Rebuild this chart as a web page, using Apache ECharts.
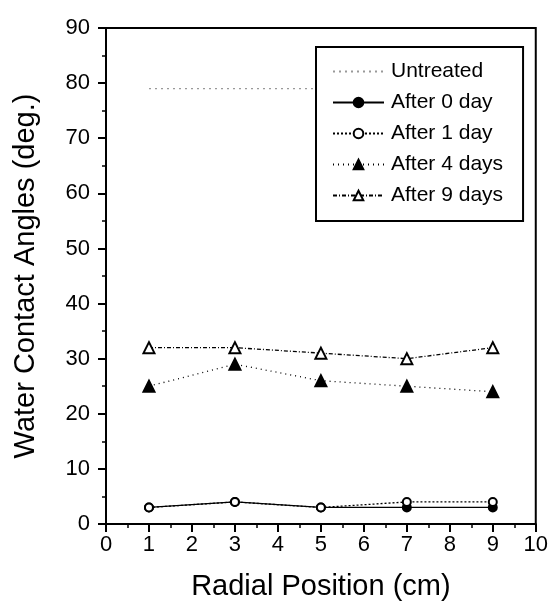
<!DOCTYPE html>
<html>
<head>
<meta charset="utf-8">
<script src="https://cdn.jsdelivr.net/npm/echarts@6/dist/echarts.min.js"></script>
<style>
  html, body { margin: 0; padding: 0; background: #fff; }
  #chart { width: 551px; height: 606px; }
</style>
</head>
<body>
<div id="chart"></div>
<script>
// radial positions (cm)
const positions = [1, 3, 5, 7, 9];
// water contact angles (deg.)
const untreated = [79, 79, 79, 79, 79];
const after0 = [3, 4, 3, 3, 3];
const after1 = [3, 4, 3, 4, 4];
const after4 = [25, 29, 26, 25, 24];
const after9 = [32, 32, 31, 30, 32];
const names = ['Untreated', 'After 0 day', 'After 1 day', 'After 4 days', 'After 9 days'];

const font = 'Liberation Sans, Arial, sans-serif';
const pair = arr => positions.map((x, i) => [x, arr[i]]);

const chart = echarts.init(document.getElementById('chart'));

// 每条曲线的样式
const mk = (name, data, symbol, fill, lineType, lineColor, z) => ({
  name: name,
  type: 'line',
  data: pair(data),
  symbol: symbol,
  symbolSize: symbol === 'triangle' ? 11 : 8,
  showSymbol: fill !== 'transparent',
  itemStyle: fill === 'transparent'
    ? { color: 'rgba(0,0,0,0)', borderWidth: 0, opacity: 0 }
    : { color: fill, borderColor: '#000', borderWidth: 2 },
  lineStyle: { color: lineColor, width: 1.3, type: lineType },
  z: z,
  animation: false
});

const axisCommon = {
  axisLine: { lineStyle: { color: '#000', width: 2 } },
  axisTick: { inside: false, length: 8, lineStyle: { color: '#000', width: 2 } },
  minorTick: { show: true, splitNumber: 2, length: 4, lineStyle: { color: '#000', width: 1.5 } },
  splitLine: { show: false }
};

const option = {
  backgroundColor: '#fff',
  grid: {
    left: 106, right: 15, top: 28, bottom: 82,
    show: true, borderColor: '#000', borderWidth: 2
  },
  legend: {
    orient: 'vertical',
    left: 316, top: 47,
    padding: [14, 20, 15, 16],
    itemGap: 10,
    itemWidth: 51,
    itemHeight: 12,
    backgroundColor: '#fff',
    borderColor: '#000',
    borderWidth: 2,
    borderRadius: 0,
    textStyle: { fontFamily: font, fontSize: 21, color: '#000', padding: [0, 0, 0, 2] },
    data: names
  },
  xAxis: Object.assign({
    type: 'value',
    min: 0, max: 10, interval: 1,
    name: 'Radial Position (cm)',
    nameLocation: 'middle',
    nameGap: 48,
    nameTextStyle: { fontFamily: font, fontSize: 29, color: '#000' },
    axisLabel: { fontFamily: font, fontSize: 22, color: '#000', margin: 10 }
  }, axisCommon),
  yAxis: Object.assign({
    type: 'value',
    min: 0, max: 90, interval: 10,
    name: 'Water Contact Angles (deg.)',
    nameLocation: 'middle',
    nameGap: 66,
    nameTextStyle: { fontFamily: font, fontSize: 29, color: '#000' },
    axisLabel: { fontFamily: font, fontSize: 22, color: '#000', margin: 16 }
  }, axisCommon),
  series: [
    mk(names[0], untreated, 'circle', 'transparent', [2, 4], '#999', 1),
    mk(names[1], after0, 'circle', '#000', 'solid', '#000', 2),
    mk(names[2], after1, 'circle', '#fff', [2, 2], '#000', 3),
    mk(names[3], after4, 'triangle', '#000', [1, 4], '#000', 2),
    mk(names[4], after9, 'triangle', '#fff', [4, 2, 1, 2], '#000', 2)
  ]
};
chart.setOption(option);
</script>
</body>
</html>
